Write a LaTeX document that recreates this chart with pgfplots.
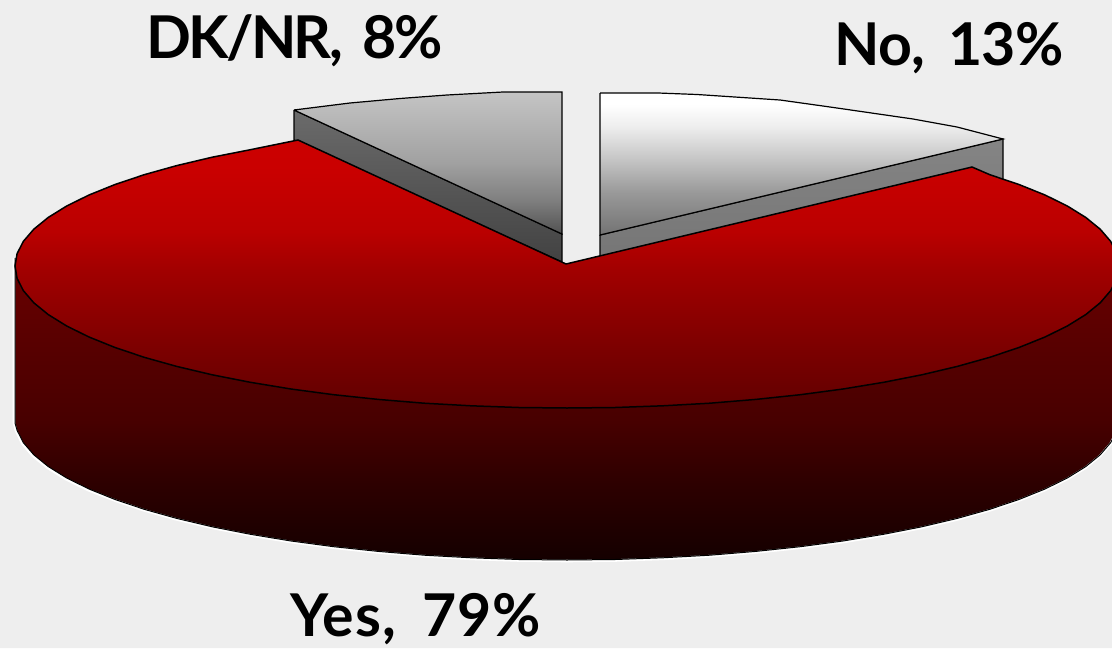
\documentclass[border=0pt]{standalone}
\usepackage{pgfplots}
\usepackage{fontspec}
\pgfplotsset{compat=1.18}
\setmainfont[WordSpace=1.7]{Lato}

\definecolor{bgcol}{HTML}{EEEEEE}

% pgf maps a path's bounding box to 25bp..75bp of the shading
\pgfdeclareverticalshading{redtop}{100bp}{
  rgb(0bp)=(0.38,0,0);
  rgb(25bp)=(0.38,0,0);
  rgb(37.5bp)=(0.50,0,0);
  rgb(50.5bp)=(0.63,0,0);
  rgb(58bp)=(0.73,0,0);
  rgb(69.5bp)=(0.79,0,0);
  rgb(75bp)=(0.80,0,0);
  rgb(100bp)=(0.80,0,0)}
\pgfdeclareverticalshading{redside}{100bp}{
  rgb(0bp)=(0.08,0,0);
  rgb(25bp)=(0.08,0,0);
  rgb(38bp)=(0.18,0,0);
  rgb(48bp)=(0.28,0,0);
  rgb(71.5bp)=(0.40,0,0);
  rgb(75bp)=(0.42,0,0);
  rgb(100bp)=(0.42,0,0)}
\pgfdeclareverticalshading{dktop}{100bp}{
  rgb(0bp)=(0.32,0.32,0.32);
  rgb(25bp)=(0.32,0.32,0.32);
  rgb(37bp)=(0.50,0.50,0.50);
  rgb(50bp)=(0.63,0.63,0.63);
  rgb(75bp)=(0.77,0.77,0.77);
  rgb(100bp)=(0.77,0.77,0.77)}
\pgfdeclareverticalshading{dkside}{100bp}{
  rgb(0bp)=(0.26,0.26,0.26);
  rgb(25bp)=(0.26,0.26,0.26);
  rgb(75bp)=(0.42,0.42,0.42);
  rgb(100bp)=(0.42,0.42,0.42)}
\pgfdeclareverticalshading{notop}{100bp}{
  rgb(0bp)=(0.45,0.45,0.45);
  rgb(25bp)=(0.45,0.45,0.45);
  rgb(40bp)=(0.60,0.60,0.60);
  rgb(51.5bp)=(0.77,0.77,0.77);
  rgb(63bp)=(0.93,0.93,0.93);
  rgb(71bp)=(1,1,1);
  rgb(100bp)=(1,1,1)}
\pgfdeclareverticalshading{noside}{100bp}{
  rgb(0bp)=(0.46,0.46,0.46);
  rgb(25bp)=(0.46,0.46,0.46);
  rgb(75bp)=(0.52,0.52,0.52);
  rgb(100bp)=(0.52,0.52,0.52)}

\begin{document}
\begin{tikzpicture}
\begin{axis}[
    scale only axis,
    width=556pt,
    height=324pt,
    xmin=0, xmax=1112,
    ymin=0, ymax=648,
    y dir=reverse,
    hide axis,
    clip=true,
]

% background
\addplot[fill=bgcol, draw=none] coordinates {(0,0) (1112,0) (1112,648) (0,648) (0,0)};

% DK/NR slice
\addplot[shading=dkside, draw=black, line width=0.6pt] coordinates {
    (294,110) (562,234) (562,262) (294,140) (294,110)};
\addplot[shading=dktop, draw=black, line width=0.6pt] coordinates {
    (294,110) (350,103) (400,98.5) (447,95) (503,92) (562,92) (562,234) (294,110)};

% No slice
\addplot[shading=noside, draw=black, line width=0.6pt] coordinates {
    (600,235) (1003,139) (1003,180) (600,262) (600,235)};
\addplot[shading=notop, draw=black, line width=0.6pt] coordinates {
    (600,93) (658,93) (697,94.5) (780,100) (830,107) (913,119) (957,127) (1003,139) (600,235) (600,93)};

% Yes slice, side wall
\addplot[shading=redside, draw=none] coordinates {
    (15,258) (15,423) (17.1,430.4) (23.4,442.7) (33.8,454.8) (48.3,466.6) (66.7,478) (89,489)
    (114.8,499.4) (144.2,509.3) (176.7,518.4) (212.2,526.8) (250.4,534.3) (291,541)
    (333.7,546.7) (378.2,551.4) (424.1,555.2) (471.2,557.8) (518.9,559.5) (567,560)
    (615.1,559.5) (662.8,557.8) (709.9,555.2) (755.8,551.4) (800.3,546.7) (843,541)
    (883.6,534.3) (921.8,526.8) (957.3,518.4) (989.8,509.3) (1019.2,499.4) (1045,489)
    (1067.3,478) (1085.7,466.6) (1100.2,454.8) (1110.6,442.7) (1116.9,430.4) (1119,418)
    (1119,266) (15,266) (15,258)};

% white rim, then black line, along the wall's outer edge
\addplot[white, line width=1.3pt] coordinates {
    (14,258) (14,423) (16.1,431) (22.4,443.7) (32.8,455.8) (47.3,467.6) (65.7,479) (88,490)
    (114.8,500.4) (144.2,510.3) (176.7,519.4) (212.2,527.8) (250.4,535.3) (291,542)
    (333.7,547.7) (378.2,552.4) (424.1,556.2) (471.2,558.8) (518.9,560.5) (567,561)
    (615.1,560.5) (662.8,558.8) (709.9,556.2) (755.8,552.4) (800.3,547.7) (843,542)
    (883.6,535.3) (921.8,527.8) (957.3,519.4) (989.8,510.3) (1019.2,500.4) (1045,490)
    (1067.3,479) (1085.7,467.6) (1100.2,455.8) (1110.6,443.7) (1116.9,431.4)};
\addplot[black, line width=0.5pt] coordinates {
    (15,258) (15,423) (17.1,430.4) (23.4,442.7) (33.8,454.8) (48.3,466.6) (66.7,478) (89,489)
    (114.8,499.4) (144.2,509.3) (176.7,518.4) (212.2,526.8) (250.4,534.3) (291,541)
    (333.7,546.7) (378.2,551.4) (424.1,555.2) (471.2,557.8) (518.9,559.5) (567,560)
    (615.1,559.5) (662.8,557.8) (709.9,555.2) (755.8,551.4) (800.3,546.7) (843,541)
    (883.6,534.3) (921.8,526.8) (957.3,518.4) (989.8,509.3) (1019.2,499.4) (1045,489)
    (1067.3,478) (1085.7,466.6) (1100.2,454.8) (1110.6,442.7) (1116.9,430.4)};

% Yes slice, top
\addplot[shading=redtop, draw=black, line width=0.75pt] coordinates {
    (566,264) (972,167) (989.8,174.7) (1019.2,184.6) (1045,195) (1067.3,206) (1085.7,217.4)
    (1100.2,229.2) (1110.6,241.3) (1116.9,253.6) (1119,266)
    (1116.9,278.4) (1110.6,290.7) (1100.2,302.8) (1085.7,314.6) (1067.3,326) (1045,337)
    (1019.2,347.4) (989.8,357.3) (957.3,366.4) (921.8,374.8) (883.6,382.3) (843,389)
    (800.3,394.7) (755.8,399.4) (709.9,403.2) (662.8,405.8) (615.1,407.5) (567,408)
    (518.9,407.5) (471.2,405.8) (424.1,403.2) (378.2,399.4) (333.7,394.7) (291,389)
    (250.4,382.3) (212.2,374.8) (176.7,366.4) (144.2,357.3) (114.8,347.4) (89,337)
    (66.7,326) (48.3,314.6) (33.8,302.8) (23.4,290.7) (17.1,278.4) (15,266)
    (17.1,253.6) (23.4,241.3) (33.8,229.2) (48.3,217.4) (66.7,206) (89,195) (114.8,184.6)
    (144.2,174.7) (176.7,165.6) (212.2,157.2) (250.4,149.7) (298,140) (566,264)};

% labels
\node[anchor=base west, inner sep=0pt, font=\fontsize{29.5}{30}\selectfont\bfseries\addfontfeature{LetterSpace=-4.6}] at (axis cs:146,58) {DK/NR, 8\%};
\node[anchor=base west, inner sep=0pt, font=\fontsize{29.5}{30}\selectfont\bfseries\addfontfeature{LetterSpace=-1.3}] at (axis cs:834,65) {No, 13\%};
\node[anchor=base west, inner sep=0pt, font=\fontsize{29.5}{30}\selectfont\bfseries\addfontfeature{LetterSpace=1.6}] at (axis cs:290,636) {Yes, 79\%};

\end{axis}
\end{tikzpicture}
\end{document}
